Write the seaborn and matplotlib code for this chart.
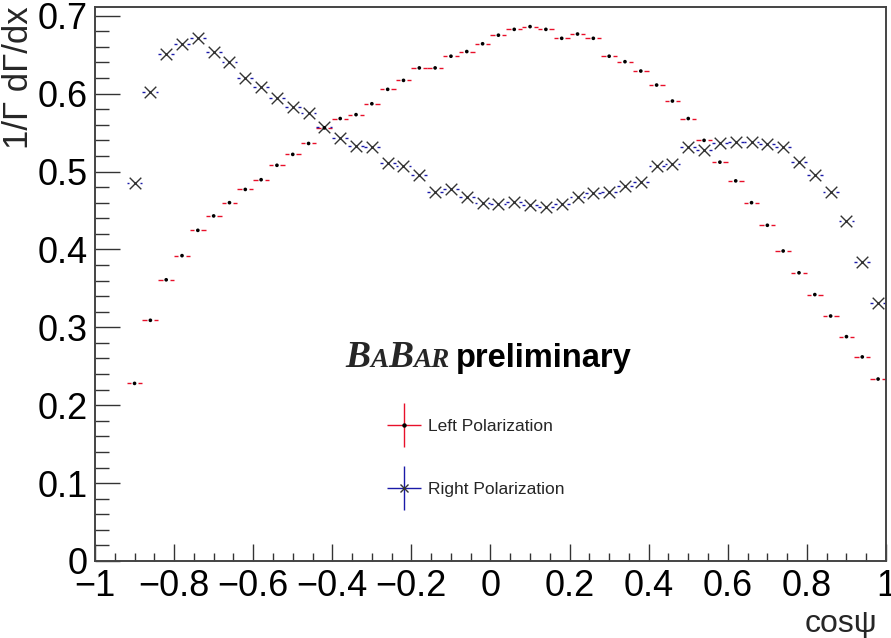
import numpy as np
import pandas as pd
import seaborn as sns
import matplotlib
matplotlib.use("Agg")
import matplotlib.pyplot as plt
from matplotlib.ticker import MultipleLocator, FixedLocator
from matplotlib.lines import Line2D
from matplotlib.collections import LineCollection
from matplotlib.container import ErrorbarContainer
from matplotlib.legend_handler import HandlerErrorbar

# ---------------- data ----------------
cos_psi = [-0.90, -0.86, -0.82, -0.78, -0.74, -0.70, -0.66, -0.62, -0.58, -0.54,
           -0.50, -0.46, -0.42, -0.38, -0.34, -0.30, -0.26, -0.22, -0.18, -0.14,
           -0.10, -0.06, -0.02, 0.02, 0.06, 0.10, 0.14, 0.18, 0.22, 0.26,
           0.30, 0.34, 0.38, 0.42, 0.46, 0.50, 0.54, 0.58, 0.62, 0.66,
           0.70, 0.74, 0.78, 0.82, 0.86, 0.90, 0.94, 0.98]
bin_half_width = 0.02

left_pol = [0.228, 0.309, 0.361, 0.392, 0.4245, 0.443, 0.460, 0.477, 0.4895, 0.508,
            0.522, 0.536, 0.556, 0.568, 0.573, 0.587, 0.6055, 0.617, 0.633, 0.633,
            0.648, 0.654, 0.664, 0.675, 0.6825, 0.686, 0.6825, 0.671, 0.6765, 0.671,
            0.648, 0.641, 0.629, 0.611, 0.5905, 0.568, 0.540, 0.512, 0.488, 0.460,
            0.431, 0.398, 0.370, 0.342, 0.3145, 0.288, 0.262, 0.2336]
right_pol = [0.485, 0.6025, 0.651, 0.664, 0.671, 0.654, 0.641, 0.620, 0.609, 0.594,
             0.583, 0.5755, 0.557, 0.543, 0.533, 0.532, 0.5105, 0.507, 0.4955, 0.474,
             0.478, 0.467, 0.460, 0.458, 0.461, 0.457, 0.454, 0.458, 0.467, 0.472,
             0.474, 0.481, 0.487, 0.507, 0.5096, 0.532, 0.527, 0.536, 0.538, 0.538,
             0.535, 0.531, 0.512, 0.4955, 0.474, 0.436, 0.384, 0.331]

x_ticks = [-1, -0.8, -0.6, -0.4, -0.2, 0, 0.2, 0.4, 0.6, 0.8, 1]
x_ticklabels = ["\u22121", "\u22120.8", "\u22120.6", "\u22120.4", "\u22120.2", "0",
                "0.2", "0.4", "0.6", "0.8", "1"]
y_ticks = [0, 0.1, 0.2, 0.3, 0.4, 0.5, 0.6, 0.7]
y_ticklabels = ["0", "0.1", "0.2", "0.3", "0.4", "0.5", "0.6", "0.7"]

x_label = "cos\u03c8"
y_label = "1/\u0393 d\u0393/dx"
series_names = ["Left Polarization", "Right Polarization"]

# ---------------- style ----------------
sns.set_theme(style="white")
plt.rcParams["font.family"] = ["Liberation Sans", "DejaVu Sans"]
plt.rcParams["axes.unicode_minus"] = True

df = pd.DataFrame({"x": cos_psi, "left": left_pol, "right": right_pol})

fig = plt.figure(figsize=(8.91, 6.38), dpi=100)
ax = fig.add_axes([95 / 891, 1 - 561 / 638, 791 / 891, 554 / 638])
ax.set_xlim(-1, 1)
ax.set_ylim(0, 0.7112)

x = df["x"].to_numpy()

# Left polarization: red horizontal bars with a gap + small black dot
gapL = 0.009
ax.hlines(df["left"], x - bin_half_width, x - gapL, colors="#e8102a", lw=1.0, zorder=2)
ax.hlines(df["left"], x + gapL, x + bin_half_width, colors="#e8102a", lw=1.0, zorder=2)
sns.scatterplot(data=df, x="x", y="left", ax=ax, marker="o", color="black",
                s=7, edgecolor="none", zorder=4, legend=False)

# Right polarization: blue horizontal bars + x markers
gapR = 0.013
ax.hlines(df["right"], x - bin_half_width, x - gapR, colors="#1a1aa8", lw=1.0, zorder=2)
ax.hlines(df["right"], x + gapR, x + bin_half_width, colors="#1a1aa8", lw=1.0, zorder=2)
sns.scatterplot(data=df, x="x", y="right", ax=ax, marker="x", color="#333333",
                s=70, linewidth=1.0, zorder=3, legend=False)

# ---------------- axes ----------------
ax.xaxis.set_major_locator(FixedLocator(x_ticks))
ax.set_xticklabels(x_ticklabels)
ax.yaxis.set_major_locator(FixedLocator(y_ticks))
ax.set_yticklabels(y_ticklabels)
ax.xaxis.set_minor_locator(MultipleLocator(0.05))
ax.yaxis.set_minor_locator(MultipleLocator(0.02))

ax.tick_params(axis="x", which="major", direction="in", length=12, width=1.0,
               color="#333333", labelsize=26, pad=6, labelcolor="black",
               bottom=True, top=False)
ax.tick_params(axis="x", which="minor", direction="in", length=6, width=1.0,
               color="#333333", bottom=True, top=False)
ax.tick_params(axis="y", which="major", direction="in", length=18, width=1.0,
               color="#333333", labelsize=26, pad=5, labelcolor="black",
               left=True, right=False)
ax.tick_params(axis="y", which="minor", direction="in", length=10, width=1.0,
               color="#333333", left=True, right=False)

for sp in ax.spines.values():
    sp.set_visible(True)
    sp.set_color("#444444")
    sp.set_linewidth(1.4)

ax.set_xlabel(x_label, fontsize=23, ha="right", va="baseline")
ax.xaxis.set_label_coords((877 - 95) / 791, (561 - 632) / 554)
ylab = ax.set_ylabel(y_label, fontsize=25, ha="right", va="center",
                     rotation=90, rotation_mode="anchor")
ax.yaxis.set_label_coords((18 - 95) / 791, (561 - 6) / 554)

# ---------------- BaBar preliminary ----------------
yb = (561 - 367) / 554
serif = dict(family=["Liberation Serif", "DejaVu Serif"], style="italic", weight="bold")
t1 = ax.text((345 - 95) / 791, yb, "B", transform=ax.transAxes, va="baseline",
             ha="left", fontsize=27, **serif)


def chain(prev, s, size, dx=0, **kw):
    return ax.annotate(s, xy=(1, yb), xycoords=(prev, "axes fraction"),
                       xytext=(dx, 0), textcoords="offset points",
                       va="baseline", ha="left", fontsize=size, **kw)


t2 = chain(t1, "A", 19.5, **serif)
t3 = chain(t2, "B", 27, **serif)
t4 = chain(t3, "AR", 19.5, **serif)
t5 = chain(t4, "preliminary", 23.5, dx=5, weight="bold", color="black")

# ---------------- legend ----------------
def make_handle(barcolor, marker, mcolor, ms, label):
    line = Line2D([], [], ls="none", marker=marker, color=mcolor,
                  markersize=ms, markeredgewidth=1.0)
    xb = LineCollection([], colors=barcolor, linewidths=1.0)
    yb_ = LineCollection([], colors=barcolor, linewidths=1.0)
    return ErrorbarContainer((line, (), (xb, yb_)), has_xerr=True, has_yerr=True,
                             label=label)


h1 = make_handle("#e8102a", "o", "black", 2.2, series_names[0])
h2 = make_handle("#1a1aa8", "x", "#333333", 6, series_names[1])
leg = ax.legend(handles=[h1, h2], labels=series_names,
                handler_map={ErrorbarContainer: HandlerErrorbar(xerr_size=1.0, yerr_size=1.25)},
                loc="center left", bbox_to_anchor=((386.6 - 95) / 791, (561 - 458) / 554),
                frameon=False, fontsize=12.5, numpoints=1, handlelength=2.0,
                handletextpad=0.38, labelspacing=2.76, borderpad=0, borderaxespad=0)

fig.savefig("out.png", dpi=100)
